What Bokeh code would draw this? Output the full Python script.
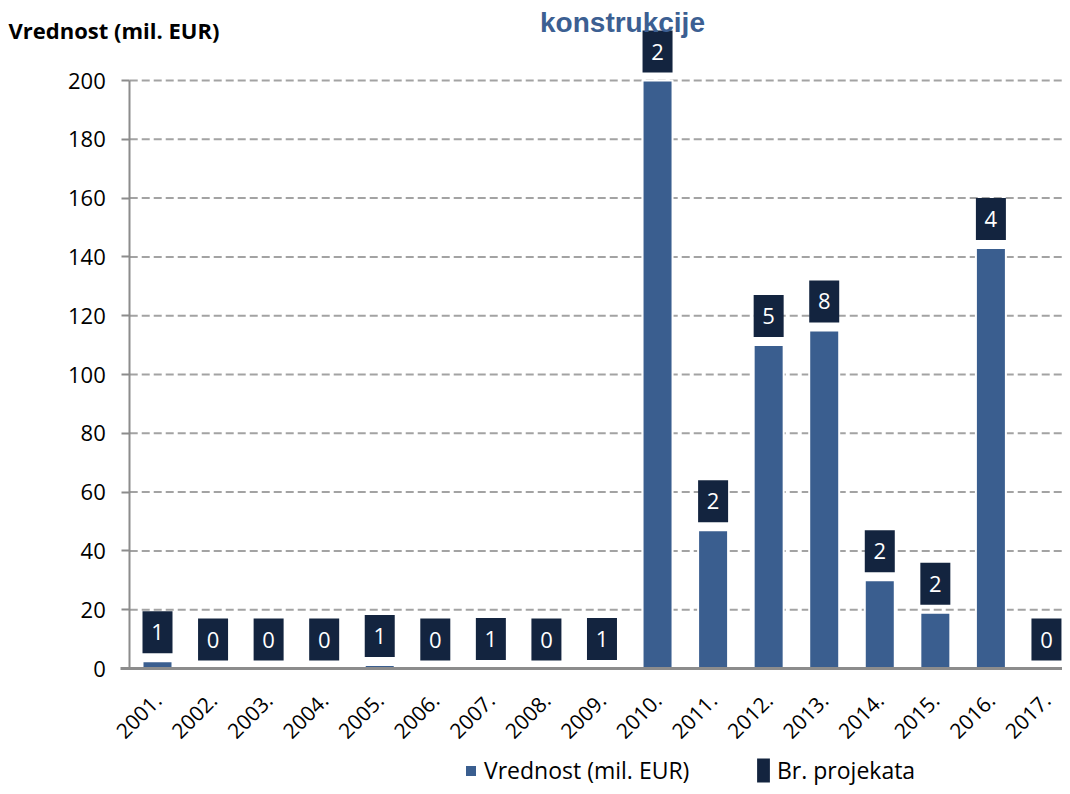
import math
from bokeh.plotting import figure
from bokeh.models import Range1d, FixedTicker, Label, Legend, LegendItem
from bokeh.embed import file_html
from bokeh.resources import INLINE
from bokeh.core.properties import value

# ---- data ----
years = ["2001.", "2002.", "2003.", "2004.", "2005.", "2006.", "2007.", "2008.", "2009.",
         "2010.", "2011.", "2012.", "2013.", "2014.", "2015.", "2016.", "2017."]
values = [2.5, 0, 0, 0, 1.2, 0, 0.2, 0, 0.2, 200, 47, 110, 115, 30, 19, 143, 0]
counts = [1, 0, 0, 0, 1, 0, 1, 0, 1, 2, 2, 5, 8, 2, 2, 4, 0]
yticks = [0, 20, 40, 60, 80, 100, 120, 140, 160, 180, 200]
title_text = "konstrukcije"
ylabel_text = "Vrednost (mil. EUR)"
series_names = ["Vrednost (mil. EUR)", "Br. projekata"]

pos = list(range(1, len(years) + 1))

# ---- layout / style constants (pixels) ----
W, H = 1062, 786
FIRST_CENTER_PX = 157      # x pixel of first category centre
PX_PER_CAT = 55.56         # pixels per category
ZERO_PX = 668              # y pixel of value 0
PX_PER_UNIT = 2.94         # pixels per value unit
LABEL_GAP = 8              # gap between bar top and count box
BOX_W, BOX_H = 30, 42

BAR = "#3A5E8F"
NAVY = "#13243F"
GRID = "#A3A3A3"
AXIS = "#8C8C8C"
FONT = "Open Sans"

x_start = 1 - FIRST_CENTER_PX / PX_PER_CAT
x_end = 1 + (W - FIRST_CENTER_PX) / PX_PER_CAT
y_start = -(H - ZERO_PX) / PX_PER_UNIT
y_end = ZERO_PX / PX_PER_UNIT

p = figure(width=W, height=H,
           x_range=Range1d(x_start, x_end), y_range=Range1d(y_start, y_end),
           output_backend="svg", toolbar_location=None,
           min_border=0, min_border_left=0, min_border_right=0,
           min_border_top=0, min_border_bottom=0)
p.outline_line_color = None
p.background_fill_color = "white"
p.border_fill_color = "white"
p.xgrid.grid_line_color = None
p.ygrid.grid_line_color = None

# dashed gridlines, limited to the plot area
cat_left = 0.5
grid_vals = [t for t in yticks if t > 0]
p.segment(x0=[cat_left] * len(grid_vals), y0=grid_vals,
          x1=[x_end] * len(grid_vals), y1=grid_vals,
          line_color=GRID, line_width=2, line_dash="8 4")

# bars
bars = p.vbar(x=pos, top=values, width=0.54, fill_color=BAR, line_color="white", line_width=2)

# count boxes above bars
off = (LABEL_GAP + BOX_H / 2) / PX_PER_UNIT
box_y = [v + off for v in values]
boxes = p.rect(x=pos, y=box_y, width=BOX_W, height=BOX_H,
               width_units="screen", height_units="screen",
               fill_color=NAVY, line_color=None)
p.text(x=pos, y=box_y, text=[str(c) for c in counts], text_align="center",
       text_baseline="middle", text_color="white", text_font=value(FONT),
       text_font_size=value("22px"))

# y axis (pinned inside the canvas)
p.yaxis.fixed_location = cat_left
p.yaxis.bounds = (0, 200)
p.yaxis.ticker = FixedTicker(ticks=yticks)
p.yaxis.major_tick_out = 8
p.yaxis.major_tick_in = 0
p.yaxis.minor_tick_line_color = None
p.yaxis.major_tick_line_color = AXIS
p.yaxis.major_tick_line_width = 2
p.yaxis.axis_line_color = AXIS
p.yaxis.axis_line_width = 2
p.yaxis.major_label_text_font = FONT
p.yaxis.major_label_text_font_size = "22px"
p.yaxis.major_label_text_color = "black"
p.yaxis.major_label_standoff = 16

# x axis (pinned at value 0)
p.xaxis.fixed_location = 0
p.xaxis.bounds = (cat_left - 9 / PX_PER_CAT, x_end)
p.xaxis.ticker = FixedTicker(ticks=pos)
p.xaxis.major_label_overrides = {x: y for x, y in zip(pos, years)}
p.xaxis.major_tick_out = 0
p.xaxis.major_tick_in = 0
p.xaxis.minor_tick_line_color = None
p.xaxis.axis_line_color = AXIS
p.xaxis.axis_line_width = 3
p.xaxis.major_label_orientation = math.pi / 4
p.xaxis.major_label_text_font = FONT
p.xaxis.major_label_text_font_size = "21px"
p.xaxis.major_label_text_color = "black"
p.xaxis.major_label_standoff = 28

# title and y label
p.add_layout(Label(x=622, y=H - 22, x_units="screen", y_units="screen", text=title_text,
                   text_align="center", text_baseline="alphabetic", text_color="#3C5F92",
                   text_font="Liberation Sans", text_font_style="bold", text_font_size="28px"))
p.add_layout(Label(x=8, y=H - 29, x_units="screen", y_units="screen", text=ylabel_text,
                   text_align="left", text_baseline="middle", text_color="black",
                   text_font=FONT, text_font_style="bold", text_font_size="22px"))

# legends (two, so each can have its own key size)
key = p.scatter(x=[], y=[], marker="square", size=12, fill_color=BAR, line_color=None)
common = dict(orientation="horizontal", label_standoff=6,
              label_text_font=FONT, label_text_font_size="23px", label_text_color="black",
              border_line_color=None, background_fill_alpha=0, padding=0, margin=0)
leg1 = Legend(items=[LegendItem(label=series_names[0], renderers=[bars])],
              location=(463, 0), glyph_width=15, glyph_height=15, **common)
leg2 = Legend(items=[LegendItem(label=series_names[1], renderers=[boxes])],
              location=(755, 0), glyph_width=16, glyph_height=30, **common)
p.add_layout(leg1, "center")
p.add_layout(leg2, "center")

open("out.html", "w").write(file_html(p, INLINE))
